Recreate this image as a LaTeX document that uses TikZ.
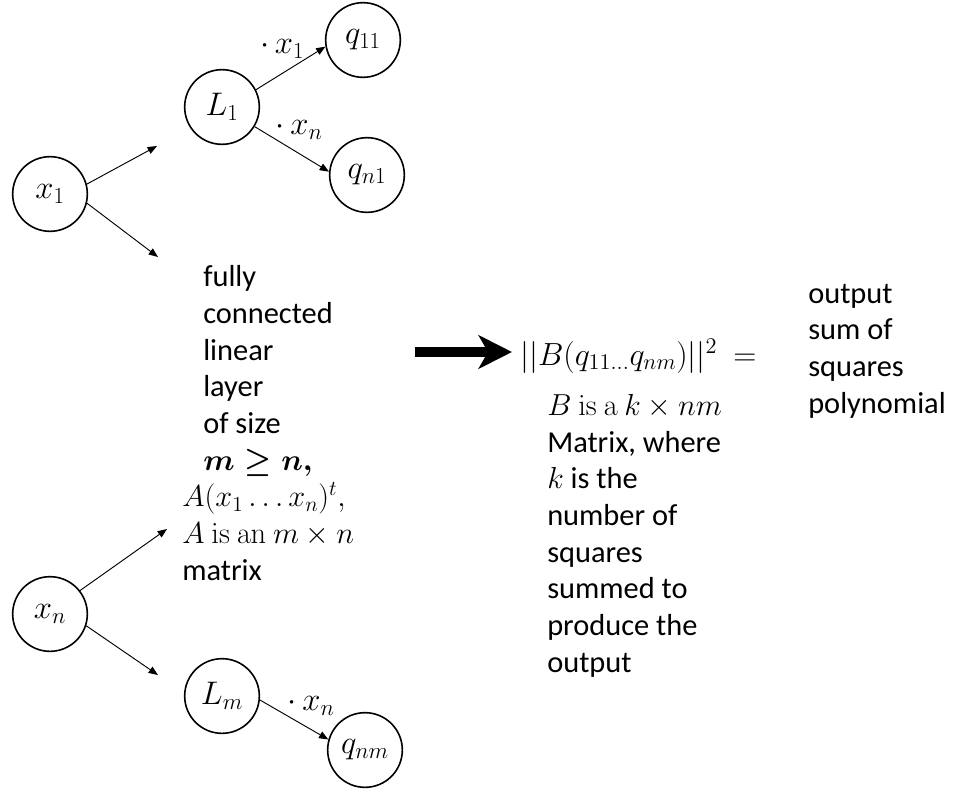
\RequirePackage{fix-cm}
\documentclass[tikz,border=0pt]{standalone}
\usepackage{amsmath}
\usepackage[no-math]{fontspec}
\setmainfont{Carlito}
\usetikzlibrary{arrows.meta}

\begin{document}
\begin{tikzpicture}[x=0.75pt, y=-0.75pt, font=\fontsize{22.8}{27.5}\selectfont,
        neuron/.style={circle, draw, minimum size=56pt, inner sep=0pt, line width=1.2pt, font=\fontsize{24.5}{29}\selectfont},
        txt/.style={anchor=base west, align=left, inner sep=0pt},
        lbl/.style={inner sep=0pt, font=\fontsize{24.5}{29}\selectfont},
        conn/.style={line width=0.7pt, -{Triangle[length=7pt, width=5.5pt]}},
        bigarrow/.style={line width=7pt, -{Stealth[length=25pt, width=25pt, inset=7pt]}}]

        \useasboundingbox (0,0) rectangle (953,789);

        \node[neuron] (x1) at (50,194) {$x_1$};
        \node[neuron] (L1) at (222,107) {$L_1$};
        \node[neuron] (q11) at (363,40) {$q_{11}$};
        \node[neuron] (qn1) at (367,175) {$q_{n1}$};
        \node[neuron] (xn) at (50,614) {$x_n$};
        \node[neuron] (Lm) at (222,696) {$L_m$};
        \node[neuron] (qnm) at (365,750) {$q_{nm}$};

        \coordinate (x1up) at (157,146);
        \coordinate (x1dn) at (158,257);
        \coordinate (xnup) at (167,529);
        \coordinate (xndn) at (158,675);
        \coordinate (bigstart) at (415,352);

        \node[txt] (layer) at (203,470) {fully\\connected\\linear\\layer\\of size\\$\boldsymbol{m\geq n,}$};
        \node[txt] (matA) at (182,580) {$A(x_1\ldots x_n)^t,$\\$A\ \mathrm{is\ an}\ m\times n$\\matrix};
        \node[txt, inner xsep=6pt, font=\fontsize{24}{29}\selectfont] (normB) at (512,365) {$||B(q_{11\ldots}q_{nm})||^2\ =$};
        \node[txt] (matB) at (547,672) {$B\ \mathrm{is\ a}\ k\times nm$\\Matrix, where\\$k$ is the\\number of\\squares\\summed to\\produce the\\output};
        \node[txt] (result) at (808,413) {output\\sum of\\squares\\polynomial};

        \draw[conn] (x1.15) -- (x1up);
        \draw[conn] (x1.-14) -- (x1dn);
        \draw[conn] (xn.38) -- (xnup);
        \draw[conn] (xn.-18) -- (xndn);
        \draw[conn] (L1.27) -- node[lbl, pos=0.38, above=11pt] {$\cdot\,x_1$} (q11.190);
        \draw[conn] (L1.-31) -- node[lbl, pos=0.6, above=10pt] {$\cdot\,x_n$} (qn1.175);
        \draw[conn] (Lm.-6) -- node[lbl, pos=0.75, above=10pt] {$\cdot\,x_n$} (qnm.164);
        \draw[bigarrow] (bigstart) -- (bigstart -| normB.west);

        \end{tikzpicture}
\end{document}
